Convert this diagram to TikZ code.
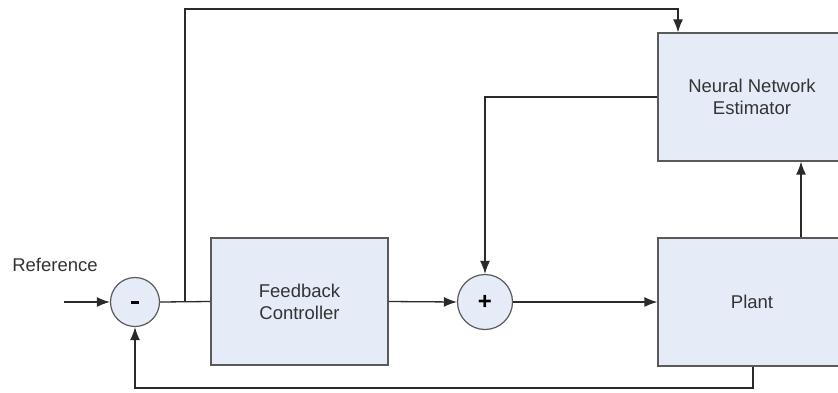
\documentclass[tikz,border=0pt]{standalone}
\usepackage{fontspec}
\setmainfont{Liberation Sans}
\usetikzlibrary{arrows.meta}
\definecolor{boxfill}{HTML}{E6ECF7}
\definecolor{boxline}{HTML}{5A5A5A}
\definecolor{wire}{HTML}{2A2A2A}
\begin{document}
\begin{tikzpicture}[x=1pt,y=-1pt,
  blk/.style={draw=boxline,fill=boxfill,line width=1.2pt,minimum width=188pt,minimum height=128pt,align=center,font=\fontsize{18.5}{22}\selectfont,text=black!80},
  sumnode/.style={circle,draw=boxline,fill=boxfill,line width=1.2pt,inner sep=0pt,text=black,font=\fontsize{24}{26}\selectfont\bfseries},
  wireline/.style={draw=wire,line width=1.3pt},
  arr/.style={wireline,-{Latex[length=13pt,width=10pt]}}]
\useasboundingbox (0,0) rectangle (838,392);
\clip (0,0) rectangle (838,392);
\node[sumnode,minimum size=49pt] (minus) at (135,302) {\rule{8pt}{3pt}};
\node[blk,minimum width=177pt,minimum height=127pt] (fc) at (299.5,301.5) {Feedback\\Controller};
\node[sumnode,minimum size=55pt] (plus) at (485,302) {+};
\node[blk] (plant) at (752,302) {Plant};
\node[blk] (nn) at (752,97) {Neural Network\\Estimator};
\node[font=\fontsize{18.5}{22}\selectfont,text=black!80] (ref) at (55,265) {Reference};
\coordinate (in) at (64,302);
\coordinate (br) at (185,302);
\coordinate (top) at (185,9);
\coordinate (nnin) at (678,0);
\coordinate (upx) at (801,0);
\coordinate (outx) at (753,0);
\coordinate (bot) at (753,388);
\draw[arr] (in) -- (minus.west);
\draw[wireline] (minus.east) -- (fc.west);
\draw[arr] (br) -- (top) -| (nn.north -| nnin);
\draw[arr] (fc.east) -- (plus.west);
\draw[arr] (plus.east) -- (plant.west);
\draw[arr] (nn.west) -| (plus.north);
\draw[arr] (plant.north -| upx) -- (nn.south -| upx);
\draw[arr] (plant.south -| outx) -- (bot) -| (minus.south);
\end{tikzpicture}
\end{document}
